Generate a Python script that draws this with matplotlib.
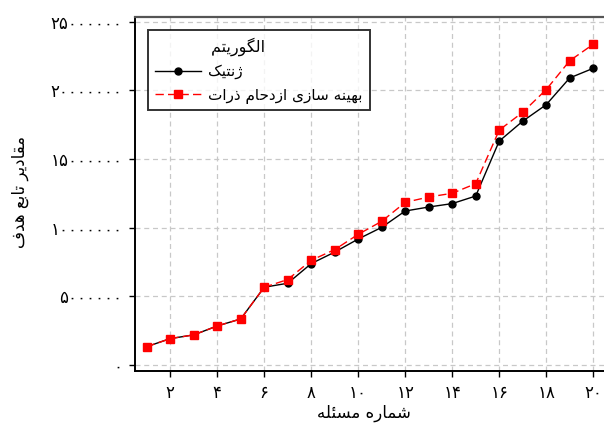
import matplotlib
matplotlib.use("Agg")
import matplotlib.pyplot as plt
from matplotlib.ticker import FixedLocator, FixedFormatter

# ---- data ----
problems = list(range(1, 21))
genetic = [1.33e6, 1.92e6, 2.19e6, 2.84e6, 3.35e6, 5.66e6, 5.95e6, 7.38e6, 8.22e6, 9.17e6,
           10.02e6, 11.21e6, 11.50e6, 11.75e6, 12.30e6, 16.30e6, 17.75e6, 18.95e6, 20.90e6, 21.60e6]
pso = [1.33e6, 1.92e6, 2.19e6, 2.84e6, 3.35e6, 5.66e6, 6.22e6, 7.62e6, 8.40e6, 9.51e6,
       10.46e6, 11.84e6, 12.23e6, 12.50e6, 13.20e6, 17.10e6, 18.40e6, 20.05e6, 22.15e6, 23.35e6]
x_ticks = [2, 4, 6, 8, 10, 12, 14, 16, 18, 20]
y_ticks = [0, 5000000, 10000000, 15000000, 20000000, 25000000]

legend_title = "الگوریتم"
label_genetic = "ژنتیک"
label_pso = "بهینه سازی ازدحام ذرات"
x_label = "شماره مسئله"
y_label = "مقادیر تابع هدف"

# ---- minimal Arabic/Persian shaping (contextual forms + visual order) ----
FORMS = {
    "ا": ("\uFE8D", "\uFE8E", None, None),
    "ب": ("\uFE8F", "\uFE90", "\uFE91", "\uFE92"),
    "ت": ("\uFE95", "\uFE96", "\uFE97", "\uFE98"),
    "ح": ("\uFEA1", "\uFEA2", "\uFEA3", "\uFEA4"),
    "د": ("\uFEA9", "\uFEAA", None, None),
    "ذ": ("\uFEAB", "\uFEAC", None, None),
    "ر": ("\uFEAD", "\uFEAE", None, None),
    "ز": ("\uFEAF", "\uFEB0", None, None),
    "ژ": ("\uFB8A", "\uFB8B", None, None),
    "س": ("\uFEB1", "\uFEB2", "\uFEB3", "\uFEB4"),
    "ش": ("\uFEB5", "\uFEB6", "\uFEB7", "\uFEB8"),
    "ع": ("\uFEC9", "\uFECA", "\uFECB", "\uFECC"),
    "ف": ("\uFED1", "\uFED2", "\uFED3", "\uFED4"),
    "ق": ("\uFED5", "\uFED6", "\uFED7", "\uFED8"),
    "ل": ("\uFEDD", "\uFEDE", "\uFEDF", "\uFEE0"),
    "م": ("\uFEE1", "\uFEE2", "\uFEE3", "\uFEE4"),
    "ن": ("\uFEE5", "\uFEE6", "\uFEE7", "\uFEE8"),
    "ه": ("\uFEE9", "\uFEEA", "\uFEEB", "\uFEEC"),
    "و": ("\uFEED", "\uFEEE", None, None),
    "ئ": ("\uFE89", "\uFE8A", "\uFE8B", "\uFE8C"),
    "ی": ("\uFBFC", "\uFBFD", "\uFBFE", "\uFBFF"),
    "ک": ("\uFB8E", "\uFB8F", "\uFB90", "\uFB91"),
    "گ": ("\uFB92", "\uFB93", "\uFB94", "\uFB95"),
}


def joins_left(ch):
    return ch in FORMS and FORMS[ch][2] is not None


def shape(text):
    out = []
    for i, ch in enumerate(text):
        if ch not in FORMS:
            out.append(ch)
            continue
        prev = text[i - 1] if i > 0 else ""
        nxt = text[i + 1] if i + 1 < len(text) else ""
        jp = joins_left(prev)
        jn = joins_left(ch) and nxt in FORMS
        iso, fin, ini, med = FORMS[ch]
        if jp and jn:
            out.append(med)
        elif jp:
            out.append(fin)
        elif jn:
            out.append(ini)
        else:
            out.append(iso)
    return "".join(out)[::-1]


PERSIAN_DIGITS = str.maketrans("0123456789", "۰۱۲۳۴۵۶۷۸۹")


def fa_num(v):
    return str(int(v)).translate(PERSIAN_DIGITS)


plt.rcParams["font.family"] = ["DejaVu Sans"]

fig = plt.figure(figsize=(6.04, 4.24), dpi=100)
ax = fig.add_axes([0.2235, 0.125, 0.7765, 0.835])

ax.plot(problems, genetic, color="black", lw=1.0, marker="o", ms=5,
        label=shape(label_genetic), zorder=3)
ax.plot(problems, pso, color="#ff0000", lw=1.0, ls=(0, (6, 3)), marker="s", ms=6,
        label=shape(label_pso), zorder=4)

ax.set_xlim(0.5, 20.46)
ax.set_ylim(-0.44e6, 25.34e6)

ax.xaxis.set_major_locator(FixedLocator(x_ticks))
ax.xaxis.set_major_formatter(FixedFormatter([fa_num(v) for v in x_ticks]))
ax.yaxis.set_major_locator(FixedLocator(y_ticks))
ax.yaxis.set_major_formatter(FixedFormatter([fa_num(v) for v in y_ticks]))
ax.tick_params(axis="both", direction="out", length=4, width=1, labelsize=12,
               colors="black", pad=5)

ax.grid(True, color="#c8c8c8", ls=(0, (4, 3)), lw=0.9)
ax.set_axisbelow(True)

ax.spines["right"].set_visible(False)
ax.spines["top"].set_color("#555555")
ax.spines["top"].set_linewidth(1.6)
for s in ("left", "bottom"):
    ax.spines[s].set_color("black")
    ax.spines[s].set_linewidth(1.4)

fig.text(364 / 604, 1 - 413 / 424, shape(x_label), fontsize=12,
         ha="center", va="center")
fig.text(20 / 604, 1 - 192 / 424, shape(y_label), fontsize=12,
         ha="center", va="center", rotation=90)

leg = ax.legend(loc="upper left", bbox_to_anchor=(0.028, 0.963),
                title=shape(legend_title) + " " * 8, fontsize=11, title_fontsize=11.5,
                frameon=True, fancybox=False, borderpad=0.45, labelspacing=0.55,
                handlelength=3.0, handletextpad=0.5, borderaxespad=0.0)
leg.get_frame().set_edgecolor("black")
leg.get_frame().set_linewidth(1.4)

fig.savefig("out.png", dpi=100)
